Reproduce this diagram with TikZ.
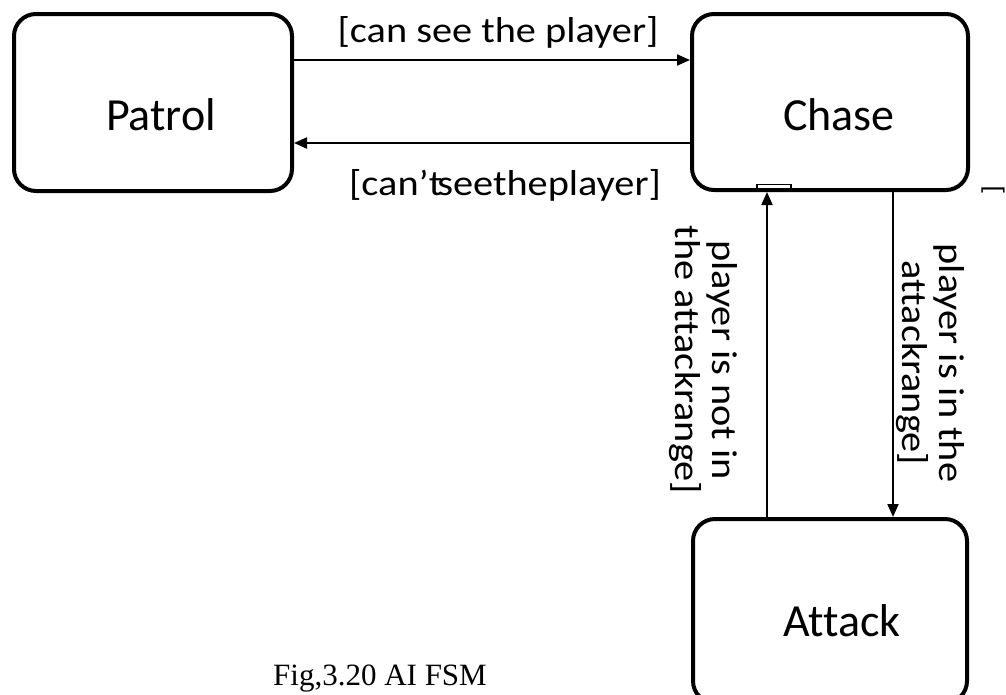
\documentclass[tikz,border=0pt]{standalone}
\usepackage{fontspec}
\setmainfont{Carlito}[Ligatures=NoCommon]
\newfontfamily\lblfont{Carlito}[FakeStretch=1.12,Ligatures=NoCommon]
\newfontfamily\capfont{Liberation Serif}
\usetikzlibrary{arrows.meta}
\tikzset{
  statebox/.style={draw=black, line width=4pt, rounded corners=22pt, fill=white, inner sep=0pt},
  statetext/.style={anchor=base, inner sep=0pt, font=\fontsize{46}{50}\selectfont},
  trans/.style={draw=black, line width=2pt, -{Triangle[length=13pt,width=11pt]}},
  guard/.style={inner sep=0pt, font=\lblfont\fontsize{36}{40}\selectfont},
  vguard/.style={inner sep=0pt, rotate=-90, align=center, font=\lblfont\fontsize{36}{37}\selectfont},
  captext/.style={anchor=base, inner sep=0pt, font=\capfont\fontsize{31}{34}\selectfont}
}
\begin{document}
\begin{tikzpicture}[x=1pt,y=-1pt]
\useasboundingbox (0,0) rectangle (1006,694);
% states
\node[statebox, minimum width=278pt, minimum height=177pt] (patrol) at (153,102.5) {};
\node[statebox, minimum width=276pt, minimum height=176pt] (chase) at (830,102) {};
\node[statebox, minimum width=274pt, minimum height=184pt] (attack) at (830,611) {};
\node[statetext] (patrolt) at (161,130) {Patrol};
\node[statetext] (chaset) at (839,130) {Chase};
\node[statetext] (attackt) at (842,636) {Attack};
% helper coordinates
\coordinate (topy) at (0,60);
\coordinate (boty) at (0,143);
\coordinate (upx) at (767,0);
\coordinate (downx) at (893,0);
% transitions
\draw[trans] (patrol.east |- topy) -- (chase.west |- topy);
\draw[trans] (chase.west |- boty) -- (patrol.east |- boty);
\draw[trans] (attack.north -| upx) -- (chase.south -| upx);
\draw[trans] (chase.south -| downx) -- (attack.north -| downx);
% small mark on Chase bottom
\draw[line width=1.5pt, fill=white] (757,184.5) rectangle (791,189);
% guards
\node[guard, anchor=base] (g1) at (498,42) {[can see the player]};
\node[guard, anchor=base] (g2) at (505,195) {[can’t\kern-5pt seetheplayer]};
\node[vguard] (g3) at (703,360) {player is not in\\the attackrange]};
\node[vguard] (g4) at (930,363) {player is in the\\attackrange]};
\node[inner sep=0pt, rotate=-90, font=\lblfont\fontsize{27}{30}\selectfont] (g5) at (993,190) {[};
% caption
\node[captext] (cap) at (380,685) {Fig,3.20 AI FSM};
\end{tikzpicture}
\end{document}
